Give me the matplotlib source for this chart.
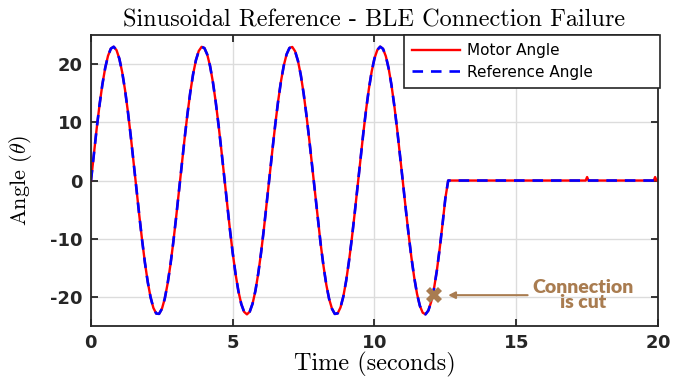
import matplotlib
matplotlib.use("Agg")
import matplotlib.pyplot as plt
import numpy as np

plt.rcParams['mathtext.fontset'] = 'cm'
plt.rcParams['axes.formatter.use_mathtext'] = True

# sampled at 10 Hz until the BLE link drops, then the angle is held at 0
sample_period = 0.1
reference_angle = [
    0.0, 4.57, 8.96, 12.99, 16.50, 19.35, 21.44, 22.67, 22.99, 22.40,
    20.91, 18.60, 15.54, 11.86, 7.70, 3.25, -1.34, -5.88, -10.18, -14.07,
    -17.41, -20.05, -21.89, -22.85, -22.91, -22.06, -20.32, -17.77, -14.52, -10.69,
    -6.43, -1.91, 2.68, 7.17, 11.36, 15.11, 18.25, 20.67, 22.26, 22.97,
    22.76, 21.64, 19.66, 16.89, 13.45, 9.48, 5.13, 0.57, -4.01, -8.43,
    -12.51, -16.10, -19.04, -21.22, -22.56, -23.00, -22.52, -21.14, -18.92, -15.95,
    -12.34, -8.24, -3.81, 0.77, 5.32, 9.66, 13.62, 17.03, 19.76, 21.70,
    22.78, 22.95, 22.20, 20.56, 18.13, 14.96, 11.20, 6.97, 2.48, -2.11,
    -6.62, -10.87, -14.67, -17.90, -20.37, -22.03, -22.92, -22.83, -21.82, -19.94,
    -17.24, -13.85, -9.98, -5.68, -1.14, 3.45, 7.90, 12.03, 15.69, 18.72,
    21.00, 22.44, 23.00, 22.63, 21.36, 19.24, 16.36, 12.82, 8.77, 4.37,
    -0.20, -4.77, -9.14, -13.14, -16.63, -19.46, -21.52, -22.71, -22.99, -22.34,
    -20.83, -18.54, -15.47, -11.69, -7.50, -3.04,
]
motor_angle = list(reference_angle)

hold_time = [12.6, 17.45, 17.5, 17.55, 19.85, 19.9, 19.95, 20.0]
hold_reference = [0.0, 0.0, 0.0, 0.0, 0.0, 0.0, 0.0, 0.0]
hold_motor = [0.0, 0.0, 0.6, 0.0, 0.0, 0.6, 0.0, 0.0]

cut_time, cut_angle = 12.1, -19.7

t_sine = np.arange(len(reference_angle)) * sample_period
t_ref = np.concatenate([t_sine, hold_time])
y_ref = np.concatenate([reference_angle, hold_reference])
y_motor = np.concatenate([motor_angle, hold_motor])

fig = plt.figure(figsize=(6.97, 3.85), dpi=100)
ax = fig.add_axes([0.1306, 0.1532, 0.8134, 0.7558])

ax.plot(t_ref, y_motor, color='#ff0000', lw=1.7, label='Motor Angle')
ax.plot(t_ref, y_ref, color='#0000ff', lw=1.9, ls=(0, (4, 3)), label='Reference Angle')

brown = '#a97c50'
ax.plot(cut_time, cut_angle, marker='X', color=brown, markersize=11, markeredgewidth=0)
ax.annotate('', xy=(cut_time + 0.4, cut_angle), xytext=(15.5, cut_angle),
            arrowprops=dict(arrowstyle='-|>', color=brown, lw=1.5, mutation_scale=10))
ax.text(17.35, cut_angle, 'Connection\nis cut', color=brown, fontsize=14,
        fontweight='heavy', family='Lato', ha='center', va='center', linespacing=0.9)

ax.set_xlim(0, 20)
ax.set_ylim(-25, 25)
ax.set_xticks([0, 5, 10, 15, 20])
ax.set_yticks([-20, -10, 0, 10, 20])
ax.set_yticklabels(['-20', '-10', '0', '10', '20'])
ax.grid(True, color='#dcdcdc', lw=1.0)
ax.set_axisbelow(True)

for s in ax.spines.values():
    s.set_color('#262626')
    s.set_linewidth(1.3)
ax.tick_params(direction='in', top=True, right=True, length=5, width=1.3,
               colors='#262626', pad=6)
for lab in ax.get_xticklabels() + ax.get_yticklabels():
    lab.set_family('DejaVu Sans')
    lab.set_fontweight('bold')
    lab.set_fontsize(13)

ax.set_title('Sinusoidal Reference - BLE Connection Failure', family='cmr10',
             fontsize=17.5, pad=6)
ax.set_xlabel('Time (seconds)', family='cmr10', fontsize=17.5, labelpad=0)
ax.set_ylabel(r'Angle ($\theta$)', family='cmr10', fontsize=16)
ax.yaxis.set_label_coords(-0.1, 0.5)

leg = ax.legend(loc='upper left', bbox_to_anchor=(0.552, 0.0, 0.451, 1.0),
                mode='expand', borderaxespad=0, fancybox=False,
                prop={'family': 'DejaVu Sans', 'size': 11},
                handlelength=3.1, handletextpad=0.45, borderpad=0.55, labelspacing=0.4)
leg.get_frame().set_edgecolor('#262626')
leg.get_frame().set_linewidth(1.2)
leg.get_frame().set_alpha(1)

fig.savefig('out.png', dpi=100)
